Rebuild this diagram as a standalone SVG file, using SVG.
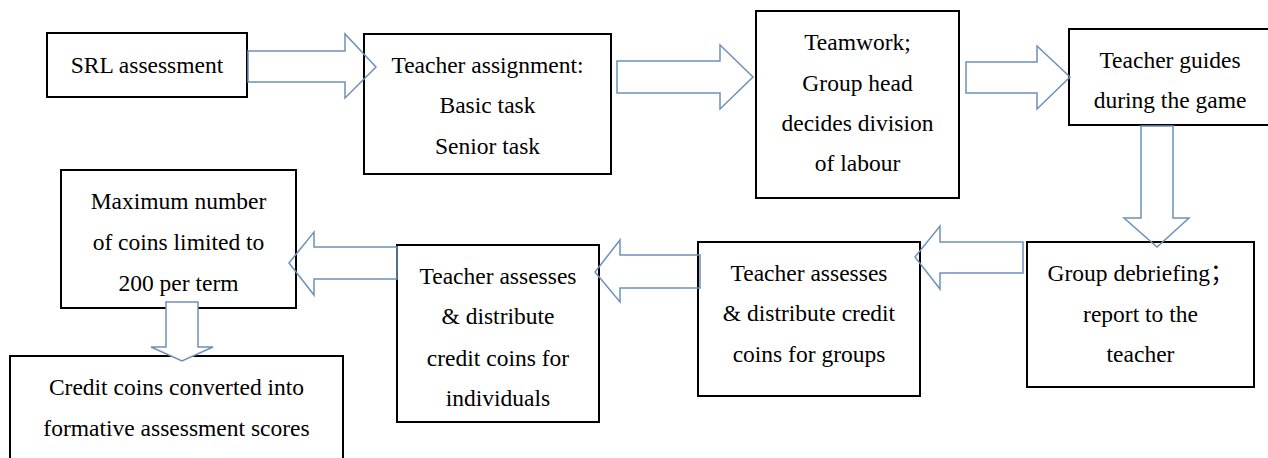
<svg xmlns="http://www.w3.org/2000/svg" width="1268" height="458" viewBox="0 0 1268 458">
<rect width="1268" height="458" fill="#fff"/>
<g id="nodes">
<g id="srl"><rect x="47" y="33" width="200" height="64" fill="#fff" stroke="#000" stroke-width="2"/><text font-family="Liberation Serif" font-size="23.5" text-anchor="middle" x="147" y="73">SRL assessment</text></g>
<g id="assign"><rect x="364" y="34" width="247" height="140" fill="#fff" stroke="#000" stroke-width="2"/><text font-family="Liberation Serif" font-size="23.5" text-anchor="middle" x="487.5" y="73">Teacher assignment:</text><text font-family="Liberation Serif" font-size="23.5" text-anchor="middle" x="487.5" y="113">Basic task</text><text font-family="Liberation Serif" font-size="23.5" text-anchor="middle" x="487.5" y="154">Senior task</text></g>
<g id="teamwork"><rect x="756" y="11" width="203" height="187" fill="#fff" stroke="#000" stroke-width="2"/><text font-family="Liberation Serif" font-size="23.5" text-anchor="middle" x="857.5" y="50">Teamwork;</text><text font-family="Liberation Serif" font-size="23.5" text-anchor="middle" x="857.5" y="91">Group head</text><text font-family="Liberation Serif" font-size="23.5" text-anchor="middle" x="857.5" y="131">decides division</text><text font-family="Liberation Serif" font-size="23.5" text-anchor="middle" x="857.5" y="171">of labour</text></g>
<g id="guides"><rect x="1069" y="29" width="204" height="96" fill="#fff" stroke="#000" stroke-width="2"/><text font-family="Liberation Serif" font-size="23.5" text-anchor="middle" x="1170" y="68">Teacher guides</text><text font-family="Liberation Serif" font-size="23.5" text-anchor="middle" x="1170" y="108">during the game</text></g>
<g id="debrief"><rect x="1027" y="242" width="227" height="145" fill="#fff" stroke="#000" stroke-width="2"/><text font-family="Liberation Serif, Noto Sans CJK SC, serif" font-size="23.5" text-anchor="middle" x="1140.5" y="281">Group debriefing；</text><text font-family="Liberation Serif" font-size="23.5" text-anchor="middle" x="1140.5" y="321.5">report to the</text><text font-family="Liberation Serif" font-size="23.5" text-anchor="middle" x="1140.5" y="361.5">teacher</text></g>
<g id="groups"><rect x="698" y="242" width="222" height="154" fill="#fff" stroke="#000" stroke-width="2"/><text font-family="Liberation Serif" font-size="23.5" text-anchor="middle" x="809" y="281">Teacher assesses</text><text font-family="Liberation Serif" font-size="23.5" text-anchor="middle" x="809" y="321">&amp; distribute credit</text><text font-family="Liberation Serif" font-size="23.5" text-anchor="middle" x="809" y="362">coins for groups</text></g>
<g id="individuals"><rect x="397" y="245" width="202" height="177" fill="#fff" stroke="#000" stroke-width="2"/><text font-family="Liberation Serif" font-size="23.5" text-anchor="middle" x="498" y="284">Teacher assesses</text><text font-family="Liberation Serif" font-size="23.5" text-anchor="middle" x="498" y="324">&amp; distribute</text><text font-family="Liberation Serif" font-size="23.5" text-anchor="middle" x="498" y="365.5">credit coins for</text><text font-family="Liberation Serif" font-size="23.5" text-anchor="middle" x="498" y="405.5">individuals</text></g>
<g id="maximum"><rect x="61" y="170" width="235" height="138" fill="#fff" stroke="#000" stroke-width="2"/><text font-family="Liberation Serif" font-size="23.5" text-anchor="middle" x="178.5" y="209">Maximum number</text><text font-family="Liberation Serif" font-size="23.5" text-anchor="middle" x="178.5" y="250">of coins limited to</text><text font-family="Liberation Serif" font-size="23.5" text-anchor="middle" x="178.5" y="290.5">200 per term</text></g>
<g id="credit"><rect x="10" y="356" width="333" height="110" fill="#fff" stroke="#000" stroke-width="2"/><text font-family="Liberation Serif" font-size="23.5" text-anchor="middle" x="176.5" y="395">Credit coins converted into</text><text font-family="Liberation Serif" font-size="23.5" text-anchor="middle" x="176.5" y="435.5">formative assessment scores</text></g>
</g>
<g id="connectors" fill="none" stroke="#6E91B9" stroke-width="1.5">
<polygon points="248,51 345,51 345,34 376,67 345,98 345,82 248,82"/>
<polygon points="617,61 720,61 720,45 753,77 720,109 720,93 617,93"/>
<polygon points="966,62 1037,62 1037,46 1070,77 1037,109 1037,93 966,93"/>
<polygon points="1141,126 1173,126 1173,218 1189,218 1157,247 1124,218 1141,218"/>
<polygon points="1023,242 940,242 940,226 915,257 940,289 940,273 1023,273"/>
<polygon points="700,255 620,255 620,240 595,272 620,302 620,288 700,288"/>
<polygon points="397,247 314,247 314,232 289,263 314,295 314,279 397,279"/>
<polygon fill="#fff" points="166,302 198,302 198,347 213,347 182,361 151,347 166,347"/>
</g>
</svg>
